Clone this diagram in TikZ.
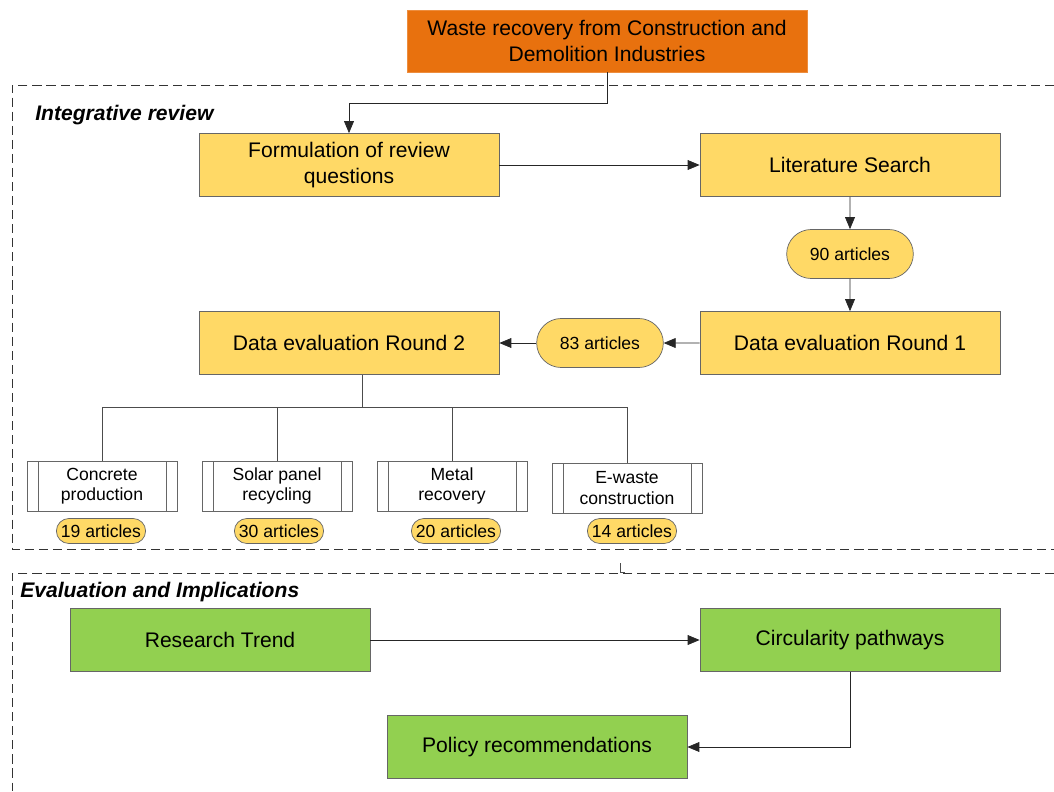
\documentclass[tikz,border=0pt]{standalone}
\usepackage{fontspec}
\setmainfont{Liberation Sans}
\usetikzlibrary{positioning,arrows.meta,shapes.misc}

\definecolor{wasteorange}{RGB}{232,113,14}
\definecolor{revyellow}{RGB}{255,217,102}
\definecolor{evalgreen}{RGB}{146,208,80}

\begin{document}
\begin{tikzpicture}[x=0.025cm, y=-0.025cm,
  >={Triangle[length=8.5pt,width=7pt]},
  conn/.style={->, line width=0.5pt, black!85},
  link/.style={line width=0.5pt, black!70},
  region/.style={line width=0.6pt, black!80, dash pattern=on 6.5pt off 3.5pt},
  title/.style={font=\fontsize{15}{18}\selectfont\bfseries\itshape, inner sep=0pt, anchor=west},
  mainbox/.style={draw=black!60, line width=0.5pt, minimum width=7.5cm, minimum height=1.575cm,
    align=center, font=\fontsize{15}{18.5}\selectfont},
  revbox/.style={mainbox, fill=revyellow},
  evalbox/.style={mainbox, fill=evalgreen},
  pill/.style={rounded rectangle, draw=black!60, fill=revyellow, line width=0.5pt,
    minimum width=3.4cm, minimum height=1.225cm, font=\fontsize{12.5}{15}\selectfont},
  smallpill/.style={pill, minimum width=2.3cm, minimum height=0.625cm, inner sep=1pt},
  subbox/.style={draw=black!60, fill=white, line width=0.5pt, minimum width=3.75cm,
    minimum height=1.25cm, align=center, font=\fontsize{12.5}{14.5}\selectfont,
    path picture={
      \draw[black!60, line width=0.5pt]
        ([xshift=0.275cm]path picture bounding box.north west) -- ([xshift=0.275cm]path picture bounding box.south west)
        ([xshift=-0.275cm]path picture bounding box.north east) -- ([xshift=-0.275cm]path picture bounding box.south east);
    }}
]
\useasboundingbox (0,0) rectangle (1054,791);

%--- dashed regions ---
\draw[region] (1054,85) -- (12,85) -- (12,549) -- (1054,549);
\draw[region] (1054,573) -- (12,573) -- (12,791);
\draw[link] (620,563) -- (620,572) -- (625,572);

\node[title] (irev) at (35,115) {Integrative review};
\node[title] (evim) at (20,592) {Evaluation and Implications};

%--- top box ---
\node[mainbox, fill=wasteorange, draw=wasteorange!80!white, minimum width=10cm, minimum height=1.55cm]
  (waste) at (607,41) {Waste recovery from Construction and\\Demolition Industries};

%--- integrative review ---
\node[revbox] (form) at (349,165) {Formulation of review\\questions};
\node[revbox] (lit)  at (850,165) {Literature Search};
\node[pill]   (n90)  at (850,254) {90 articles};
\node[revbox] (de1)  at (850,343) {Data evaluation Round 1};
\node[pill]   (n83)  at (600,343) {83 articles};
\node[revbox] (de2)  at (349,343) {Data evaluation Round 2};

\draw[conn] (waste.south) -- ++(0,31) -| (form.north);
\draw[conn] (form) -- (lit);
\draw[conn] (lit) -- (n90);
\draw[conn] (n90) -- (de1);
\draw[conn] (de1) -- (n83);
\draw[conn] (n83) -- (de2);

% waste streams
\node[subbox] (conc)  at (102,486) {Concrete\\production};
\node[subbox] (solar) at (277,486) {Solar panel\\recycling};
\node[subbox] (metal) at (452,486) {Metal\\recovery};
\node[subbox] (ewas)  at (627,488) {E-waste\\construction};

\node[smallpill] (n19) at (101,531) {19 articles};
\node[smallpill] (n30) at (279,531) {30 articles};
\node[smallpill] (n20) at (456,531) {20 articles};
\node[smallpill] (n14) at (632,531) {14 articles};

\coordinate (split) at (362,407);
\draw[link] (de2.south -| split) -- (split);
\foreach \b in {conc,solar,metal,ewas}
  \draw[link] (\b.north) |- (split);

%--- evaluation and implications ---
\node[evalbox] (trend) at (220,640) {Research Trend};
\node[evalbox] (circ)  at (850,640) {Circularity pathways};
\node[evalbox] (pol)   at (537,747) {Policy recommendations};

\draw[conn] (trend) -- (circ);
\draw[conn] (circ.south) |- (pol.east);

\end{tikzpicture}
\end{document}
